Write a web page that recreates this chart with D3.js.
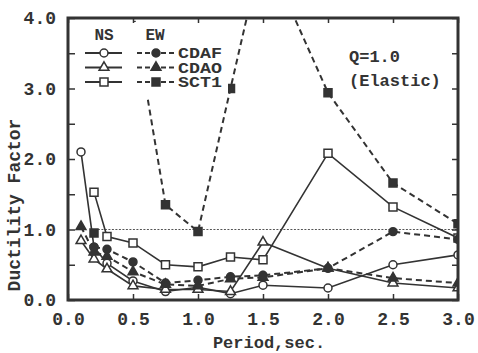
<!DOCTYPE html>
<html>
<head>
<meta charset="utf-8">
<script src="https://cdn.jsdelivr.net/npm/d3@7"></script>
<style>
  body { margin: 0; background: #fff; }
  text { font-family: "Liberation Mono", "DejaVu Sans Mono", monospace; fill: #333; }
</style>
</head>
<body>
<div id="chart"></div>
<script>
// periods (sec) and ductility factors
var periods = [0.1, 0.2, 0.3, 0.5, 0.75, 1.0, 1.25, 1.5, 2.0, 2.5, 3.0];
var nsCDAF = [2.1, 0.75, 0.52, 0.27, 0.12, 0.18, 0.09, 0.21, 0.17, 0.5, 0.64];
var nsCDAO = [0.84, 0.58, 0.44, 0.2, 0.15, 0.15, 0.12, 0.82, 0.45, 0.24, 0.17];
var nsSCT1 = [null, 1.53, 0.9, 0.81, 0.5, 0.47, 0.61, 0.57, 2.08, 1.32, 0.88];
var ewCDAF = [null, 0.75, 0.72, 0.54, 0.24, 0.28, 0.33, 0.35, 0.45, 0.97, 0.86];
var ewCDAO = [1.04, 0.68, 0.62, 0.4, 0.22, 0.2, 0.3, 0.32, 0.45, 0.31, 0.24];
var ewSCT1 = [null, 0.95, null, 4.1, 1.35, 0.97, 3.0, 5.0, 2.94, 1.66, 1.08];

var xTicks = [0, 0.5, 1.0, 1.5, 2.0, 2.5, 3.0];
var yTicks = [0, 0.5, 1, 1.5, 2, 2.5, 3, 3.5, 4];

var series = [
  {name: "CDAF", dir: "NS", values: nsCDAF, shape: "circle", filled: false},
  {name: "CDAO", dir: "NS", values: nsCDAO, shape: "triangle", filled: false},
  {name: "SCT1", dir: "NS", values: nsSCT1, shape: "square", filled: false},
  {name: "CDAF", dir: "EW", values: ewCDAF, shape: "circle", filled: true},
  {name: "CDAO", dir: "EW", values: ewCDAO, shape: "triangle", filled: true},
  {name: "SCT1", dir: "EW", values: ewSCT1, shape: "square", filled: true}
];

var ink = "#333";

// set the dimensions and margins of the graph
var margin = {top: 18, right: 20, bottom: 53, left: 68},
    width = 478 - margin.left - margin.right,
    height = 353 - margin.top - margin.bottom;

var svg = d3.select("#chart")
  .append("svg")
  .attr("width", 478)
  .attr("height", 353)
  .append("g")
  .attr("transform", "translate(" + margin.left + "," + margin.top + ")");

var xScale = d3.scaleLinear().domain([0, 3]).range([0, width]);
var yScale = d3.scaleLinear().domain([0, 4]).range([height, 0]);

svg.append("clipPath").attr("id", "plotclip")
  .append("rect").attr("width", width).attr("height", height);

// reference line at 1.0
svg.append("line")
  .attr("x1", xScale(0.23)).attr("x2", xScale(3))
  .attr("y1", yScale(1)).attr("y2", yScale(1))
  .attr("stroke", "#555").attr("stroke-width", 1.2)
  .attr("stroke-dasharray", "2,1.5");

var symbolType = {circle: d3.symbolCircle, triangle: d3.symbolTriangle, square: d3.symbolSquare};
var symbolSize = {circle: 50, triangle: 42, square: 64};

function drawMarker(g, s, x, y) {
  g.append("path")
    .attr("d", d3.symbol().type(symbolType[s.shape]).size(symbolSize[s.shape]))
    .attr("transform", "translate(" + x + "," + y + ")")
    .attr("fill", s.filled ? ink : "#fff")
    .attr("stroke", ink)
    .attr("stroke-width", 1.5);
}

var lineGen = d3.line()
  .defined(function(d) { return d.v != null; })
  .x(function(d) { return xScale(d.p); })
  .y(function(d) { return yScale(d.v); });

var plot = svg.append("g").attr("clip-path", "url(#plotclip)");

series.forEach(function(s) {
  var pts = periods.map(function(p, i) { return {p: p, v: s.values[i]}; });
  plot.append("path")
    .datum(pts)
    .attr("d", lineGen)
    .attr("fill", "none")
    .attr("stroke", ink)
    .attr("stroke-width", s.dir == "NS" ? 1.6 : 2)
    .attr("stroke-dasharray", s.dir == "NS" ? null : "6,4");
});

// legend box hides what runs under it
var legend = svg.append("g").attr("transform", "translate(14,0)");
legend.append("rect")
  .attr("x", 0).attr("y", 4).attr("width", 146).attr("height", 74)
  .attr("fill", "#fff");

series.forEach(function(s) {
  var pts = periods.map(function(p, i) { return {p: p, v: s.values[i]}; })
    .filter(function(d) { return d.v != null && d.v <= 4; });
  pts.forEach(function(d) { drawMarker(plot, s, xScale(d.p), yScale(d.v)); });
});

legend.append("text").attr("x", 22).attr("y", 22).attr("text-anchor", "middle")
  .attr("font-size", 16).attr("font-weight", "bold").text("NS");
legend.append("text").attr("x", 73).attr("y", 22).attr("text-anchor", "middle")
  .attr("font-size", 16).attr("font-weight", "bold").text("EW");

series.forEach(function(s, i) {
  var row = i % 3;
  var ly = 35 + row * 14.5;
  var x0 = s.dir == "NS" ? 3 : 55;
  legend.append("line")
    .attr("x1", x0).attr("x2", x0 + 37).attr("y1", ly).attr("y2", ly)
    .attr("stroke", ink).attr("stroke-width", 2)
    .attr("stroke-dasharray", s.dir == "NS" ? null : "5,3");
  drawMarker(legend, s, x0 + 19, ly);
  if (s.dir == "EW") {
    legend.append("text")
      .attr("x", 96).attr("y", ly + 5)
      .attr("font-size", 14.5).attr("font-weight", "bold")
      .attr("textLength", 44).attr("lengthAdjust", "spacingAndGlyphs")
      .text(s.name);
  }
});

svg.append("text").attr("x", 281).attr("y", 44)
  .attr("font-size", 17).attr("font-weight", "bold").text("Q=1.0");
svg.append("text").attr("x", 281).attr("y", 68)
  .attr("font-size", 17).attr("font-weight", "bold").text("(Elastic)");

// axes, ticks pointing inward
var xAxis = svg.append("g")
  .attr("transform", "translate(0," + height + ")")
  .call(d3.axisBottom(xScale).tickValues(xTicks).tickSize(-6).tickPadding(12)
    .tickFormat(d3.format(".1f")));
var xTop = svg.append("g")
  .call(d3.axisTop(xScale).tickValues(xTicks).tickSize(-5).tickFormat(""));
var yAxis = svg.append("g")
  .call(d3.axisLeft(yScale).tickValues(yTicks).tickSize(-7).tickPadding(12)
    .tickFormat(function(d) { return Number.isInteger(d) ? d.toFixed(1) : ""; }));
var yRight = svg.append("g")
  .attr("transform", "translate(" + width + ",0)")
  .call(d3.axisRight(yScale).tickValues(yTicks).tickSize(-6).tickFormat(""));

[xAxis, xTop, yAxis, yRight].forEach(function(a) {
  a.select(".domain").remove();
  a.selectAll("line").attr("stroke", ink).attr("stroke-width", 1.5);
  a.selectAll("text").attr("font-size", 18).attr("font-weight", "bold")
    .attr("fill", "#333").attr("font-family", "Liberation Mono");
});

svg.append("rect")
  .attr("width", width).attr("height", height)
  .attr("fill", "none").attr("stroke", ink).attr("stroke-width", 3);

// axis titles
svg.append("text")
  .attr("x", width / 2 + 6).attr("y", height + 48)
  .attr("text-anchor", "middle")
  .attr("font-size", 17).attr("font-weight", "bold")
  .text("Period,sec.");

svg.append("text")
  .attr("transform", "translate(" + (-48) + "," + (height / 2 + 46) + ") rotate(-90)")
  .attr("text-anchor", "middle")
  .attr("font-size", 18).attr("font-weight", "bold")
  .text("Ductility Factor");
</script>
</body>
</html>
